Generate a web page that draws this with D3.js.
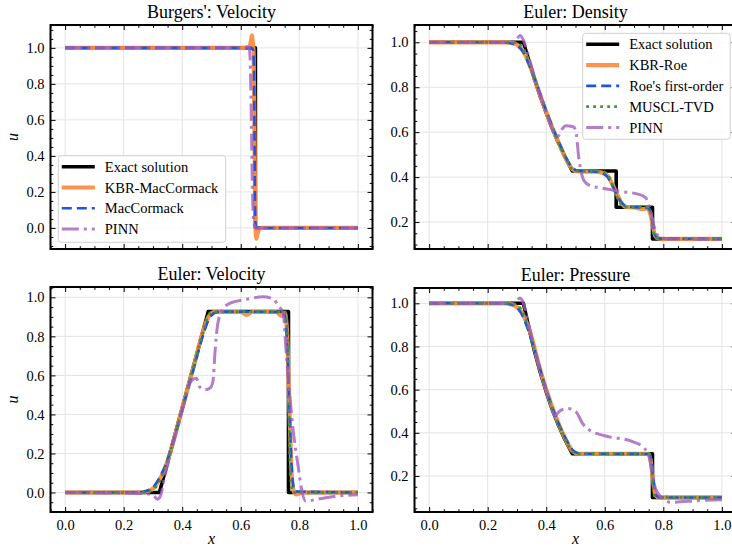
<!DOCTYPE html>
<html>
<head>
<meta charset="utf-8">
<script src="https://cdn.jsdelivr.net/npm/d3@7"></script>
<style>
  body { margin: 0; background: #fff; }
</style>
</head>
<body>
<div id="chart"></div>
<script>
// tick labels
const xTicks = [0, 0.2, 0.4, 0.6, 0.8, 1.0]
const yTicksFull = [0, 0.2, 0.4, 0.6, 0.8, 1.0]
const yTicksHigh = [0.2, 0.4, 0.6, 0.8, 1.0]

// Burgers' velocity, [x, u] pairs
const burgersExact = [[0,1],[0.65,1],[0.65,0],[1,0]]
const burgersKBR = [[0,1],[0.615,1],[0.628,1.005],[0.634,1.03],[0.638,1.07],[0.641,1.03],[0.644,0.97],[0.647,0.5],[0.650,0.03],[0.653,-0.06],[0.656,-0.04],[0.662,-0.01],[0.672,0],[1,0]]
const burgersMac = [[0,1],[0.636,1],[0.642,0.99],[0.645,0.9],[0.647,0.5],[0.649,0.08],[0.652,0],[1,0]]
const burgersPINN = [[0,1],[0.6,1],[0.622,1.005],[0.628,1.0],[0.632,0.94],[0.634,0.8],[0.637,0.5],[0.64,0.2],[0.644,0.04],[0.65,0],[1,0]]

// Euler density
const densExact = [[0,1],[0.322,1],[0.34,0.921],[0.36,0.836],[0.38,0.758],[0.40,0.686],[0.42,0.619],[0.44,0.557],[0.465,0.488],[0.489,0.427],[0.639,0.427],[0.639,0.266],[0.763,0.266],[0.763,0.125],[1,0.125]]
const densKBR = [[0,1],[0.26,1],[0.29,0.995],[0.31,0.98],[0.33,0.94],[0.35,0.875],[0.37,0.80],[0.40,0.69],[0.44,0.56],[0.47,0.475],[0.49,0.435],[0.51,0.425],[0.56,0.424],[0.59,0.42],[0.61,0.405],[0.625,0.37],[0.64,0.33],[0.655,0.29],[0.67,0.268],[0.70,0.265],[0.73,0.258],[0.745,0.26],[0.755,0.24],[0.763,0.19],[0.772,0.14],[0.782,0.127],[0.8,0.125],[1,0.125]]
const densRoe = [[0,1],[0.25,1],[0.28,0.995],[0.30,0.985],[0.32,0.96],[0.34,0.905],[0.36,0.84],[0.40,0.695],[0.44,0.565],[0.47,0.48],[0.49,0.44],[0.51,0.428],[0.56,0.425],[0.59,0.418],[0.61,0.4],[0.625,0.365],[0.64,0.325],[0.655,0.29],[0.675,0.27],[0.72,0.265],[0.748,0.262],[0.758,0.235],[0.766,0.18],[0.775,0.135],[0.79,0.126],[1,0.125]]
const densMUSCL = [[0,1],[0.29,1],[0.31,0.99],[0.33,0.95],[0.35,0.875],[0.40,0.69],[0.44,0.56],[0.47,0.478],[0.49,0.433],[0.505,0.427],[0.59,0.425],[0.61,0.41],[0.63,0.35],[0.65,0.29],[0.665,0.268],[0.75,0.265],[0.758,0.24],[0.766,0.16],[0.775,0.128],[1,0.125]]
const densPINN = [[0,1],[0.27,1],[0.295,1.005],[0.31,1.03],[0.322,1.01],[0.335,0.96],[0.36,0.845],[0.40,0.69],[0.425,0.6],[0.44,0.582],[0.455,0.615],[0.467,0.629],[0.49,0.625],[0.50,0.612],[0.512,0.478],[0.53,0.382],[0.55,0.362],[0.581,0.353],[0.649,0.337],[0.717,0.323],[0.74,0.308],[0.757,0.242],[0.775,0.153],[0.792,0.131],[0.82,0.125],[1,0.125]]

// Euler velocity
const velExact = [[0,0],[0.322,0],[0.489,0.927],[0.763,0.927],[0.763,0],[1,0]]
const velKBR = [[0,0],[0.25,0],[0.28,0.005],[0.30,0.02],[0.32,0.06],[0.34,0.12],[0.36,0.21],[0.40,0.43],[0.44,0.65],[0.47,0.82],[0.49,0.9],[0.51,0.925],[0.6,0.925],[0.62,0.91],[0.64,0.925],[0.72,0.925],[0.74,0.905],[0.75,0.92],[0.757,0.85],[0.765,0.5],[0.772,0.15],[0.78,0.01],[0.79,-0.01],[0.81,0],[1,0]]
const velRoe = [[0,0],[0.24,0],[0.27,0.005],[0.30,0.025],[0.32,0.07],[0.34,0.13],[0.36,0.215],[0.40,0.425],[0.44,0.64],[0.47,0.8],[0.49,0.885],[0.51,0.92],[0.53,0.927],[0.74,0.925],[0.752,0.9],[0.76,0.7],[0.768,0.35],[0.776,0.08],[0.785,0.005],[1,0]]
const velMUSCL = [[0,0],[0.27,0],[0.30,0.015],[0.32,0.05],[0.34,0.12],[0.36,0.21],[0.40,0.43],[0.44,0.65],[0.47,0.82],[0.49,0.91],[0.5,0.925],[0.75,0.927],[0.758,0.85],[0.764,0.45],[0.77,0.08],[0.778,0],[1,0]]
const velPINN = [[0,0],[0.27,-0.005],[0.30,-0.012],[0.315,-0.035],[0.325,-0.02],[0.34,0.08],[0.36,0.2],[0.40,0.42],[0.43,0.57],[0.448,0.585],[0.46,0.54],[0.477,0.526],[0.495,0.535],[0.505,0.57],[0.512,0.72],[0.52,0.85],[0.535,0.93],[0.562,0.969],[0.62,0.99],[0.676,1.003],[0.712,0.99],[0.727,0.96],[0.745,0.915],[0.756,0.70],[0.779,0.32],[0.796,0.133],[0.81,0.0],[0.822,-0.045],[0.86,-0.035],[0.92,-0.02],[1,-0.012]]

// Euler pressure
const presExact = [[0,1],[0.322,1],[0.34,0.891],[0.36,0.778],[0.38,0.678],[0.40,0.590],[0.42,0.511],[0.44,0.441],[0.465,0.366],[0.489,0.303],[0.763,0.303],[0.763,0.1],[1,0.1]]
const presKBR = [[0,1],[0.26,1],[0.29,0.99],[0.31,0.97],[0.33,0.92],[0.35,0.845],[0.37,0.74],[0.40,0.6],[0.44,0.45],[0.47,0.36],[0.49,0.315],[0.51,0.303],[0.75,0.303],[0.757,0.27],[0.765,0.18],[0.773,0.11],[0.785,0.1],[1,0.1]]
const presRoe = [[0,1],[0.25,1],[0.28,0.995],[0.30,0.98],[0.32,0.94],[0.34,0.87],[0.36,0.785],[0.40,0.6],[0.44,0.45],[0.47,0.365],[0.49,0.32],[0.51,0.305],[0.53,0.303],[0.748,0.302],[0.758,0.28],[0.766,0.18],[0.775,0.11],[0.79,0.1],[1,0.1]]
const presMUSCL = [[0,1],[0.28,1],[0.30,0.99],[0.32,0.96],[0.34,0.88],[0.36,0.78],[0.40,0.595],[0.44,0.445],[0.47,0.36],[0.49,0.31],[0.505,0.303],[0.752,0.303],[0.76,0.25],[0.766,0.14],[0.772,0.102],[1,0.1]]
const presPINN = [[0,1],[0.27,1],[0.295,1.005],[0.31,1.025],[0.322,1.0],[0.335,0.93],[0.36,0.79],[0.40,0.6],[0.43,0.48],[0.444,0.498],[0.473,0.513],[0.501,0.498],[0.524,0.444],[0.547,0.413],[0.604,0.385],[0.695,0.359],[0.729,0.336],[0.751,0.29],[0.768,0.166],[0.791,0.104],[0.826,0.078],[0.922,0.086],[1,0.09]]

const FONT = "'Liberation Serif'"

// line styles for each method
const styles = {
  exact: { color: "#000000", width: 3.6, dash: null, opacity: 1, curve: d3.curveLinear },
  kbr:   { color: "#ff8c42", width: 4.2, dash: null, opacity: 0.95, curve: d3.curveMonotoneX },
  roe:   { color: "#1f55d6", width: 2.6, dash: "10,5", opacity: 1, curve: d3.curveMonotoneX },
  muscl: { color: "#3a9a3a", width: 2.8, dash: "2.8,4.2", opacity: 1, curve: d3.curveMonotoneX },
  pinn:  { color: "#a35cbd", width: 3, dash: "17,5,3,5", opacity: 0.8, curve: d3.curveMonotoneX }
}

const panels = [
  { title: "Burgers': Velocity", x0: 50.5, x1: 372.5, y0: 25, y1: 249, ydom: [-0.117, 1.127], yTicks: yTicksFull, ylabel: true, xlabels: false,
    series: [["exact", burgersExact, "Exact solution"], ["kbr", burgersKBR, "KBR-MacCormack"], ["roe", burgersMac, "MacCormack"], ["pinn", burgersPINN, "PINN"]],
    legend: { x: 58.3, y: 155.7, w: 167.4, h: 86.6 } },
  { title: "Euler: Density", x0: 414.5, x1: 736.5, y0: 25, y1: 249, ydom: [0.08, 1.077], yTicks: yTicksHigh, ylabel: false, xlabels: false,
    series: [["exact", densExact, "Exact solution"], ["kbr", densKBR, "KBR-Roe"], ["roe", densRoe, "Roe's first-order"], ["muscl", densMUSCL, "MUSCL-TVD"], ["pinn", densPINN, "PINN"]],
    legend: { x: 582.7, y: 33.3, w: 147.5, h: 106 } },
  { title: "Euler: Velocity", x0: 50.5, x1: 372.5, y0: 287, y1: 512, ydom: [-0.1, 1.053], yTicks: yTicksFull, ylabel: true, xlabels: true,
    series: [["exact", velExact], ["kbr", velKBR], ["roe", velRoe], ["muscl", velMUSCL], ["pinn", velPINN]] },
  { title: "Euler: Pressure", x0: 414.5, x1: 736.5, y0: 288, y1: 512, ydom: [0.033, 1.071], yTicks: yTicksHigh, ylabel: false, xlabels: true,
    series: [["exact", presExact], ["kbr", presKBR], ["roe", presRoe], ["muscl", presMUSCL], ["pinn", presPINN]] }
]

const svg = d3.select("#chart").append("svg")
  .attr("width", 732)
  .attr("height", 550)
  .style("font-family", FONT)

svg.append("rect").attr("width", 732).attr("height", 550).attr("fill", "#fff")

const minorX = d3.range(-0.05, 1.0501, 0.05).map(v => +v.toFixed(2)).filter(v => !xTicks.includes(v))

panels.forEach((p, i) => {
  const x = d3.scaleLinear().domain([-0.05, 1.05]).range([p.x0, p.x1])
  const y = d3.scaleLinear().domain(p.ydom).range([p.y1, p.y0])
  const minorY = d3.range(-0.1, 1.101, 0.05).map(v => +v.toFixed(2))
    .filter(v => v >= p.ydom[0] && v <= p.ydom[1] && !yTicksFull.includes(v))

  const g = svg.append("g")

  // grid
  g.append("g").selectAll("line").data(xTicks).join("line")
    .attr("x1", d => x(d)).attr("x2", d => x(d)).attr("y1", p.y0).attr("y2", p.y1)
    .attr("stroke", "#e4e4e4").attr("stroke-width", 1)
  g.append("g").selectAll("line").data(p.yTicks).join("line")
    .attr("y1", d => y(d)).attr("y2", d => y(d)).attr("x1", p.x0).attr("x2", p.x1)
    .attr("stroke", "#e4e4e4").attr("stroke-width", 1)

  // clip to the axes box
  svg.append("clipPath").attr("id", "clip" + i)
    .append("rect").attr("x", p.x0).attr("y", p.y0).attr("width", p.x1 - p.x0).attr("height", p.y1 - p.y0)

  const lines = g.append("g").attr("clip-path", `url(#clip${i})`)
  p.series.forEach(([key, data]) => {
    const s = styles[key]
    const line = d3.line().x(d => x(d[0])).y(d => y(d[1])).curve(s.curve)
    lines.append("path")
      .attr("d", line(data))
      .attr("fill", "none")
      .attr("stroke", s.color)
      .attr("stroke-width", s.width)
      .attr("stroke-opacity", s.opacity)
      .attr("stroke-dasharray", s.dash)
      .attr("stroke-linejoin", "round")
  })

  // axes, ticks pointing inward on all four sides
  const tickFont = g => g.selectAll("text").style("font-family", FONT).style("font-size", "14.5px").attr("fill", "#000")
  const clean = g => { g.select(".domain").remove(); g.selectAll("line").attr("stroke", "#000").attr("stroke-width", 1) }

  g.append("g").attr("transform", `translate(${p.x0},0)`)
    .call(d3.axisLeft(y).tickValues(p.yTicks).tickSize(-5).tickPadding(6).tickFormat(d3.format(".1f")))
    .call(clean).call(tickFont)
  g.append("g").attr("transform", `translate(${p.x0},0)`)
    .call(d3.axisLeft(y).tickValues(minorY).tickSize(-2.8).tickFormat("")).call(clean)
  g.append("g").attr("transform", `translate(${p.x1},0)`)
    .call(d3.axisRight(y).tickValues(p.yTicks).tickSize(-5).tickFormat("")).call(clean)
  g.append("g").attr("transform", `translate(${p.x1},0)`)
    .call(d3.axisRight(y).tickValues(minorY).tickSize(-2.8).tickFormat("")).call(clean)

  g.append("g").attr("transform", `translate(0,${p.y1})`)
    .call(d3.axisBottom(x).tickValues(xTicks).tickSize(-5).tickPadding(8)
      .tickFormat(p.xlabels ? d3.format(".1f") : ""))
    .call(clean).call(tickFont)
  g.append("g").attr("transform", `translate(0,${p.y1})`)
    .call(d3.axisBottom(x).tickValues(minorX).tickSize(-2.8).tickFormat("")).call(clean)
  g.append("g").attr("transform", `translate(0,${p.y0})`)
    .call(d3.axisTop(x).tickValues(xTicks).tickSize(-5).tickFormat("")).call(clean)
  g.append("g").attr("transform", `translate(0,${p.y0})`)
    .call(d3.axisTop(x).tickValues(minorX).tickSize(-2.8).tickFormat("")).call(clean)

  // frame
  g.append("rect")
    .attr("x", p.x0).attr("y", p.y0).attr("width", p.x1 - p.x0).attr("height", p.y1 - p.y0)
    .attr("fill", "none").attr("stroke", "#000").attr("stroke-width", 2)

  // title
  g.append("text")
    .attr("x", (p.x0 + p.x1) / 2).attr("y", p.y0 - 7.5)
    .attr("text-anchor", "middle").style("font-size", "18px")
    .text(p.title)

  if (p.ylabel) {
    g.append("text")
      .attr("transform", `translate(18,${(p.y0 + p.y1) / 2}) rotate(-90)`)
      .attr("text-anchor", "middle").style("font-size", "16px").style("font-style", "italic")
      .text("u")
  }
  if (p.xlabels) {
    g.append("text")
      .attr("x", (p.x0 + p.x1) / 2).attr("y", p.y1 + 32)
      .attr("text-anchor", "middle").style("font-size", "16px").style("font-style", "italic")
      .text("x")
  }

  // legend
  if (p.legend) {
    const L = p.legend
    const lg = g.append("g")
    lg.append("rect")
      .attr("x", L.x).attr("y", L.y).attr("width", L.w).attr("height", L.h).attr("rx", 3)
      .attr("fill", "#fff").attr("fill-opacity", 0.85).attr("stroke", "#d0d0d0").attr("stroke-width", 1)
    p.series.forEach(([key, data, label], j) => {
      const s = styles[key]
      const cy = L.y + 11 + j * 20.8
      lg.append("line")
        .attr("x1", L.x + 3.5).attr("x2", L.x + 36.5).attr("y1", cy).attr("y2", cy)
        .attr("stroke", s.color).attr("stroke-width", s.width).attr("stroke-opacity", s.opacity)
        .attr("stroke-dasharray", s.dash)
      lg.append("text")
        .attr("x", L.x + 46.5).attr("y", cy).attr("dy", "0.35em")
        .style("font-size", "14.5px")
        .text(label)
    })
  }
})
</script>
</body>
</html>
